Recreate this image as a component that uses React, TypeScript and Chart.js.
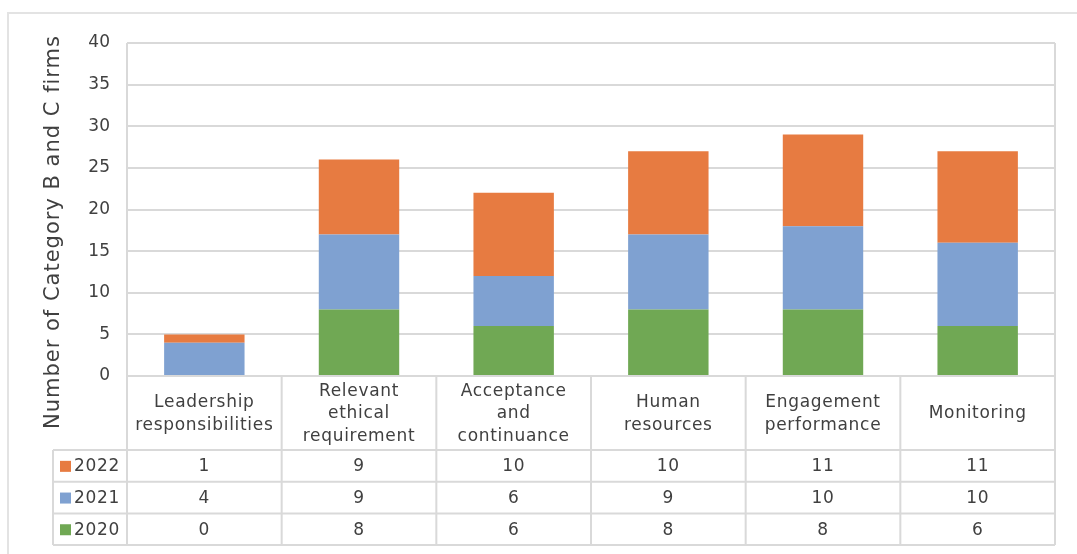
import React, { useEffect, useRef } from "react";
import { Chart, registerables } from "chart.js";

Chart.register(...registerables);

const categories: string[][] = [
  ["Leadership", "responsibilities"],
  ["Relevant", "ethical", "requirement"],
  ["Acceptance", "and", "continuance"],
  ["Human", "resources"],
  ["Engagement", "performance"],
  ["Monitoring"],
];

const years = ["2020", "2021", "2022"];
const values2020 = [0, 8, 6, 8, 8, 6];
const values2021 = [4, 9, 6, 9, 10, 10];
const values2022 = [1, 9, 10, 10, 11, 11];

const colors = ["#70A854", "#7FA1D1", "#E77B41"];
const yTitle = "Number of Category B and C firms";

const FONT = "'DejaVu Sans', sans-serif";
const TEXT = "#404040";
const LINE = "#d9d9d9";

const HEADER_H = 74;
const ROW_H = 31.7;
const LEGEND_LEFT = 53;

// Draws the data table under the plot, the frame and the rotated axis title.
const dataTablePlugin = {
  id: "dataTable",
  afterDraw(chart: any) {
    const { ctx, chartArea } = chart;
    const xs = chart.scales.x;
    const n = categories.length;
    const left = chartArea.left;
    const right = chartArea.right;
    const top = chartArea.top;
    const base = chartArea.bottom;
    const colW = (right - left) / n;
    const rowsTop = base + HEADER_H;
    const rowsOrder = [2, 1, 0];
    const series = [values2020, values2021, values2022];
    const tableBottom = rowsTop + ROW_H * rowsOrder.length;

    ctx.save();

    // outer frame
    ctx.strokeStyle = "#e3e3e3";
    ctx.lineWidth = 2;
    ctx.beginPath();
    ctx.moveTo(8, 600);
    ctx.lineTo(8, 13);
    ctx.lineTo(1080, 13);
    ctx.stroke();

    ctx.strokeStyle = LINE;
    ctx.lineWidth = 2;
    ctx.beginPath();
    // plot sides
    ctx.moveTo(left, top);
    ctx.lineTo(left, tableBottom);
    ctx.moveTo(right, top);
    ctx.lineTo(right, tableBottom);
    // header top
    ctx.moveTo(left, base);
    ctx.lineTo(right, base);
    // row lines
    for (let r = 0; r <= rowsOrder.length; r++) {
      const y = rowsTop + r * ROW_H;
      ctx.moveTo(LEGEND_LEFT, y);
      ctx.lineTo(right, y);
    }
    ctx.moveTo(LEGEND_LEFT, rowsTop);
    ctx.lineTo(LEGEND_LEFT, tableBottom);
    // column separators
    for (let i = 1; i < n; i++) {
      const x = left + i * colW;
      ctx.moveTo(x, base);
      ctx.lineTo(x, tableBottom);
    }
    ctx.stroke();

    ctx.fillStyle = TEXT;
    ctx.textAlign = "center";
    ctx.textBaseline = "middle";
    ctx.font = `17px ${FONT}`;
    ctx.letterSpacing = "0.7px";

    // category headers
    const lineH = 22.5;
    categories.forEach((lines, i) => {
      const cx = xs.getPixelForValue(i);
      const cy = base + HEADER_H / 2;
      const y0 = cy - ((lines.length - 1) * lineH) / 2;
      lines.forEach((t, k) => ctx.fillText(t, cx, y0 + k * lineH + 1));
    });

    // value rows
    rowsOrder.forEach((s, r) => {
      const cy = rowsTop + r * ROW_H + ROW_H / 2 + 1;
      series[s].forEach((v, i) => {
        ctx.fillText(String(v), xs.getPixelForValue(i), cy);
      });
      ctx.fillStyle = colors[s];
      ctx.fillRect(60, cy - 6, 11, 11);
      ctx.fillStyle = TEXT;
      ctx.textAlign = "left";
      ctx.fillText(years[s], 74, cy);
      ctx.textAlign = "center";
    });

    // axis title
    ctx.translate(59, 232);
    ctx.rotate(-Math.PI / 2);
    ctx.font = `21px ${FONT}`;
    ctx.letterSpacing = "1px";
    ctx.textBaseline = "alphabetic";
    ctx.fillText(yTitle, 0, 0);

    ctx.restore();
  },
};

export default function App() {
  const ref = useRef<HTMLCanvasElement | null>(null);

  useEffect(() => {
    if (!ref.current) return;
    const chart = new Chart(ref.current, {
      type: "bar",
      data: {
        labels: categories.map((c) => c.join(" ")),
        datasets: [
          { label: years[0], data: values2020, backgroundColor: colors[0] },
          { label: years[1], data: values2021, backgroundColor: colors[1] },
          { label: years[2], data: values2022, backgroundColor: colors[2] },
        ].map((d) => ({ ...d, barPercentage: 0.52, categoryPercentage: 1, borderWidth: 0 })),
      },
      options: {
        responsive: true,
        maintainAspectRatio: false,
        animation: false,
        layout: { padding: { top: 43, bottom: 554 - 376, left: 0, right: 1077 - 1055 } },
        plugins: { legend: { display: false }, tooltip: { enabled: false } },
        scales: {
          x: { stacked: true, display: false },
          y: {
            stacked: true,
            min: 0,
            max: 40,
            ticks: { stepSize: 5, padding: 17, color: TEXT, font: { family: FONT, size: 17 } },
            grid: { color: LINE, lineWidth: 2, drawTicks: false },
            border: { display: false },
            afterFit(scale: any) {
              scale.width = 127;
              scale.paddingTop = 0;
              scale.paddingBottom = 0;
            },
          },
        },
      },
      plugins: [dataTablePlugin],
    });
    return () => chart.destroy();
  }, []);

  return (
    <div style={{ position: "absolute", left: 0, top: 0, width: 1077, height: 554, background: "#fff" }}>
      <canvas ref={ref} />
    </div>
  );
}
